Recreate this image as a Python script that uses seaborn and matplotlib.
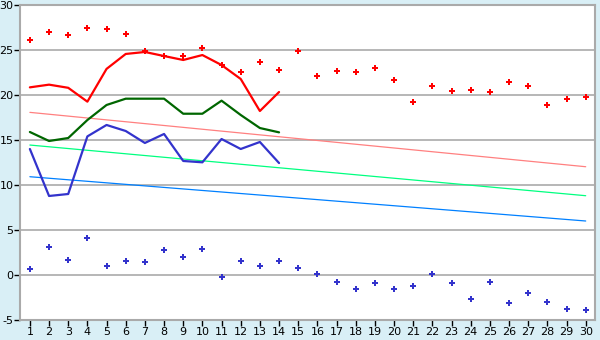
import numpy as np
import pandas as pd
import matplotlib
matplotlib.use("Agg")
import matplotlib.pyplot as plt
import seaborn as sns

days = list(range(1, 31))
days_partial = list(range(1, 15))

record_high = [26.1, 27.0, 26.67, 27.44, 27.33, 26.78, 24.89, 24.33, 24.33, 25.22,
               23.33, 22.56, 23.67, 22.78, 24.89, 22.11, 22.67, 22.56, 23.0, 21.67,
               19.22, 21.0, 20.44, 20.56, 20.33, 21.44, 21.0, 18.89, 19.56, 19.78]
record_low = [0.67, 3.11, 1.67, 4.11, 1.0, 1.56, 1.44, 2.78, 2.0, 2.89,
              -0.22, 1.56, 1.0, 1.56, 0.78, 0.11, -0.78, -1.56, -0.89, -1.56,
              -1.22, 0.11, -0.89, -2.67, -0.78, -3.11, -2.0, -3.0, -3.78, -3.89]
max_temp = [20.85, 21.15, 20.8, 19.26, 22.9, 24.56, 24.78, 24.33, 23.89, 24.44,
            23.33, 21.78, 18.22, 20.33]
mean_temp = [15.89, 14.89, 15.22, 17.22, 18.89, 19.59, 19.59, 19.59, 17.92, 17.92,
             19.37, 17.78, 16.33, 15.85]
min_temp = [14.0, 8.78, 9.0, 15.4, 16.67, 16.0, 14.67, 15.67, 12.67, 12.52,
            15.11, 14.0, 14.78, 12.44]
avg_max_start, avg_max_end = 18.07, 12.03
avg_mean_start, avg_mean_end = 14.44, 8.81
avg_min_start, avg_min_end = 10.92, 6.0
y_ticks = [-5, 0, 5, 10, 15, 20, 25, 30]

df_full = pd.DataFrame({"day": days, "rec_high": record_high, "rec_low": record_low})
df_part = pd.DataFrame({"day": days_partial, "max": max_temp, "mean": mean_temp, "min": min_temp})
df_norm = pd.DataFrame({
    "day": [days[0], days[-1]],
    "avg_max": [avg_max_start, avg_max_end],
    "avg_mean": [avg_mean_start, avg_mean_end],
    "avg_min": [avg_min_start, avg_min_end],
})

sns.set_theme(style="white")
plt.rcParams['font.family'] = ['DejaVu Sans']
plt.rcParams['axes.unicode_minus'] = False

bg = "#d9eff6"
fig = plt.figure(figsize=(6, 3.4), dpi=100, facecolor=bg)
ax = fig.add_axes([20.3 / 600, 1 - 320 / 340, 575 / 600, 315 / 340])
ax.set_facecolor("white")

for yt in y_ticks:
    ax.axhline(yt, color="#aaaaaa", lw=1.2, zorder=0)

sns.lineplot(data=df_norm, x="day", y="avg_max", color="#ff8080", lw=0.9, ax=ax)
sns.lineplot(data=df_norm, x="day", y="avg_mean", color="#00ff80", lw=0.9, ax=ax)
sns.lineplot(data=df_norm, x="day", y="avg_min", color="#0080ff", lw=0.9, ax=ax)

sns.lineplot(data=df_part, x="day", y="max", color="#ff0000", lw=1.6, ax=ax)
sns.lineplot(data=df_part, x="day", y="mean", color="#006600", lw=1.6, ax=ax)
sns.lineplot(data=df_part, x="day", y="min", color="#3333cc", lw=1.6, ax=ax)

sns.scatterplot(data=df_full, x="day", y="rec_high", color="#ff0000", marker="P",
                s=20, linewidth=0, ax=ax)
sns.scatterplot(data=df_full, x="day", y="rec_low", color="#3333cc", marker="P",
                s=20, linewidth=0, ax=ax)

ax.set_xlim(0.5, 30.5)
ax.set_ylim(-5, 30)
ax.set_xticks(days)
ax.set_yticks(y_ticks)
ax.set_xlabel("")
ax.set_ylabel("")
ax.tick_params(axis="both", which="both", direction="out", width=1,
               color="black", labelsize=8, labelcolor="black")
ax.tick_params(axis="x", bottom=True, length=4, pad=1)
ax.tick_params(axis="y", left=True, length=4, pad=1)
for side in ["left", "bottom", "right", "top"]:
    ax.spines[side].set_visible(True)
    ax.spines[side].set_color("#aaaaaa")
    ax.spines[side].set_linewidth(1.5)

fig.savefig("out.png", dpi=100, facecolor=bg)
